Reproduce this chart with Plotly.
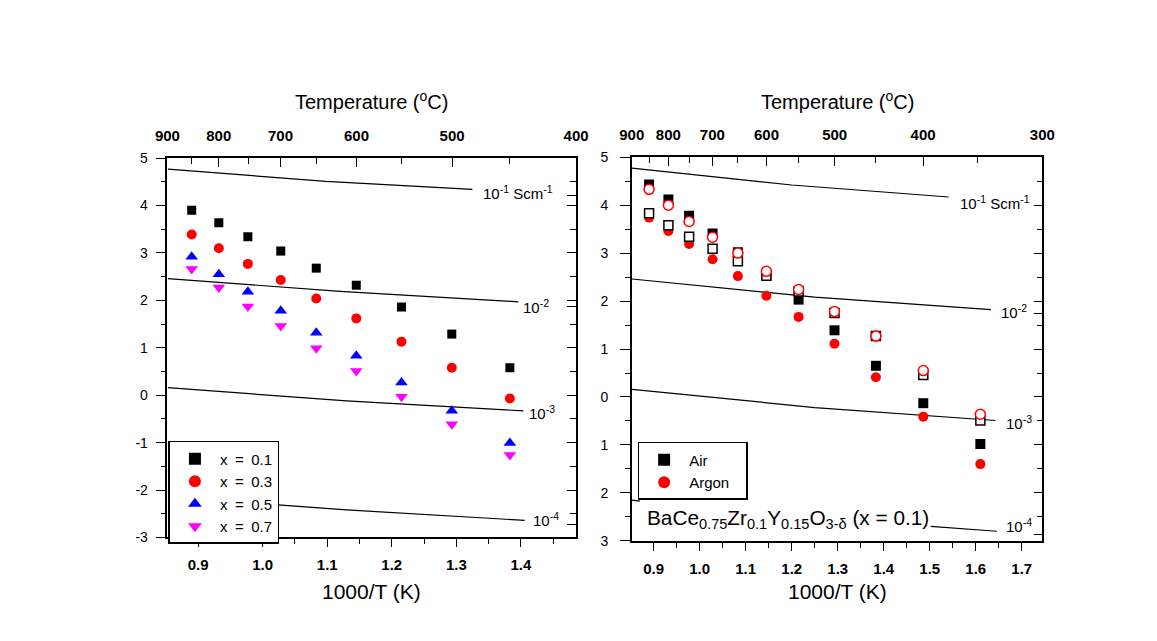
import plotly.graph_objects as go

# ---------------- data ----------------
inv_T_left = [0.890, 0.932, 0.977, 1.028, 1.083, 1.145, 1.215, 1.293, 1.383]
y_x01 = [3.90, 3.64, 3.34, 3.04, 2.68, 2.32, 1.86, 1.29, 0.58]
y_x03 = [3.39, 3.10, 2.77, 2.43, 2.04, 1.62, 1.13, 0.58, -0.07]
y_x05 = [2.92, 2.55, 2.18, 1.78, 1.32, 0.83, 0.27, -0.33, -1.01]
y_x07 = [2.66, 2.27, 1.87, 1.46, 0.99, 0.51, -0.03, -0.61, -1.26]
series_names_left = ["x\u2002=\u20020.1", "x\u2002=\u20020.3", "x\u2002=\u20020.5", "x\u2002=\u20020.7"]

inv_T_right = [0.890, 0.932, 0.977, 1.028, 1.083, 1.145, 1.215, 1.293, 1.383, 1.486, 1.610]
air_filled = [4.43, 4.12, 3.78, 3.41, 3.02, 2.55, 2.03, 1.39, 0.65, -0.13, -0.98]
argon_filled = [3.74, 3.46, 3.19, 2.87, 2.52, 2.11, 1.67, 1.11, 0.41, -0.41, -1.40]
air_open = [3.83, 3.58, 3.34, 3.09, 2.83, 2.53, 2.20, 1.75, 1.27, 0.46, -0.49]
argon_open = [4.33, 4.00, 3.66, 3.33, 3.00, 2.62, 2.24, 1.78, 1.27, 0.55, -0.36]
series_names_right = ["Air", "Argon\u2002\u00a0"]

# iso-conductivity guide lines (None = hidden behind the label)
left_iso_1e1_x = [0.853, 1.098, 1.325]; left_iso_1e1_y = [4.77, 4.51, 4.34]
left_iso_1e2_x = [0.853, 1.120, 1.396]; left_iso_1e2_y = [2.46, 2.19, 1.97]
left_iso_1e3_x = [0.853, 1.130, 1.404]; left_iso_1e3_y = [0.16, -0.12, -0.33]
left_iso_1e4_x = [0.853, 1.130, 1.406]; left_iso_1e4_y = [-2.14, -2.42, -2.64]
right_iso_1e1_x = [0.853, 1.200, 1.541]; right_iso_1e1_y = [4.77, 4.42, 4.17]
right_iso_1e2_x = [0.853, 1.250, 1.633]; right_iso_1e2_y = [2.46, 2.08, 1.82]
right_iso_1e3_x = [0.853, 1.250, 1.643]; right_iso_1e3_y = [0.16, -0.22, -0.49]
right_iso_1e4_x = [0.853, 0.870, None, 1.502, 1.646]
right_iso_1e4_y = [-2.15, -2.17, None, -2.70, -2.80]
iso_labels = ["10<sup>-1</sup> Scm<sup>-1</sup>", "10<sup>-2</sup>", "10<sup>-3</sup>", "10<sup>-4</sup>"]

# ticks
bottom_ticks_left = [0.9, 1.0, 1.1, 1.2, 1.3, 1.4]
bottom_minor_left = [0.95, 1.05, 1.15, 1.25, 1.35, 1.45]
bottom_ticks_right = [0.9, 1.0, 1.1, 1.2, 1.3, 1.4, 1.5, 1.6, 1.7]
bottom_minor_right = [0.95, 1.05, 1.15, 1.25, 1.35, 1.45, 1.55, 1.65]
temp_ticks_left = [900, 800, 700, 600, 500, 400]
temp_minor_left = [850, 750, 650, 550, 450]
temp_ticks_right = [900, 800, 700, 600, 500, 400, 300]
temp_minor_right = [850, 750, 650, 550, 450, 350]
y_ticks = [-3, -2, -1, 0, 1, 2, 3, 4, 5]
y_minor = [-2.5, -1.5, -0.5, 0.5, 1.5, 2.5, 3.5, 4.5]
y_ticktext_left = ["-3", "-2", "-1", "0", "1", "2", "3", "4", "5"]
y_ticktext_right = ["3", "2", "1", "0", "1", "2", "3", "4", "5"]
right_extra_ticks_left = [4.21, 1.88, -2.72]
right_extra_ticks_right = [1.75, -2.86]


def inv(tc):
    return 1000.0 / (tc + 273.15)


FONT = "Arial, Liberation Sans, sans-serif"
W, H = 1157, 641

fig = go.Figure()

# ---- iso lines ----
for xs, ys, ax in [
    (left_iso_1e1_x, left_iso_1e1_y, "l"), (left_iso_1e2_x, left_iso_1e2_y, "l"),
    (left_iso_1e3_x, left_iso_1e3_y, "l"), (left_iso_1e4_x, left_iso_1e4_y, "l"),
    (right_iso_1e1_x, right_iso_1e1_y, "r"), (right_iso_1e2_x, right_iso_1e2_y, "r"),
    (right_iso_1e3_x, right_iso_1e3_y, "r"), (right_iso_1e4_x, right_iso_1e4_y, "r"),
]:
    fig.add_trace(go.Scatter(
        x=xs, y=ys, mode="lines", line=dict(color="black", width=1.2),
        showlegend=False, hoverinfo="skip", connectgaps=False,
        xaxis="x" if ax == "l" else "x3", yaxis="y" if ax == "l" else "y3"))

# ---- left series ----
left_styles = [
    (y_x01, "square", "#000000", 9),
    (y_x03, "circle", "#ff0000", 10),
    (y_x05, "triangle-up", "#0000ff", 11),
    (y_x07, "triangle-down", "#ff00ff", 11),
]
for name, (ys, sym, col, sz) in zip(series_names_left, left_styles):
    fig.add_trace(go.Scatter(
        x=inv_T_left, y=ys, mode="markers", name=name,
        marker=dict(symbol=sym, color=col, size=sz, line=dict(width=0)),
        xaxis="x", yaxis="y", legend="legend"))

# ---- right series ----
fig.add_trace(go.Scatter(
    x=inv_T_right, y=air_filled, mode="markers", name=series_names_right[0],
    marker=dict(symbol="square", color="black", size=10, line=dict(width=0)),
    xaxis="x3", yaxis="y3", legend="legend2"))
fig.add_trace(go.Scatter(
    x=inv_T_right, y=argon_filled, mode="markers", name=series_names_right[1],
    marker=dict(symbol="circle", color="#ff0000", size=10, line=dict(width=0)),
    xaxis="x3", yaxis="y3", legend="legend2"))
fig.add_trace(go.Scatter(
    x=inv_T_right, y=air_open, mode="markers", name="Air (open)", showlegend=False,
    marker=dict(symbol="square", color="white", size=9, line=dict(color="black", width=1.5)),
    xaxis="x3", yaxis="y3"))
fig.add_trace(go.Scatter(
    x=inv_T_right, y=argon_open, mode="markers", name="Argon (open)", showlegend=False,
    marker=dict(symbol="circle", color="white", size=10, line=dict(color="#ff0000", width=1.5)),
    xaxis="x3", yaxis="y3"))

# dummy traces so overlay axes are created
fig.add_trace(go.Scatter(x=[], y=[], xaxis="x2", yaxis="y2", showlegend=False))
fig.add_trace(go.Scatter(x=[], y=[], xaxis="x4", yaxis="y4", showlegend=False))

# ---- axes ----
lx0, lx1 = 158 / W, 576 / W
rx0, rx1 = 633 / W, 1053 / W
ly0, ly1 = 1 - 543 / H, 1 - 154 / H
ry0, ry1 = 1 - 546.5 / H, 1 - 153 / H
xr_left = [inv(900), inv(400)]
xr_right = [inv(900), inv(300)]

common = dict(showgrid=False, zeroline=False, showline=True, linecolor="black",
              linewidth=1.5, tickcolor="black", tickwidth=1.3)
xtickfont = dict(family=FONT, size=15, color="black")
ytickfont = dict(family=FONT, size=14, color="black")


def bottom_axis(dom, anchor, rng, ticks, minor):
    return dict(common, domain=dom, anchor=anchor, range=rng, tickmode="array",
                tickvals=ticks, ticktext=["<b>%.1f</b>" % t for t in ticks],
                ticks="outside", ticklen=8, tickfont=xtickfont, ticklabelstandoff=5,
                minor=dict(tickmode="array", tickvals=minor, ticks="outside",
                           ticklen=5, tickcolor="black", tickwidth=1.3))


def top_axis(over, anchor, rng, temps, minor):
    return dict(common, overlaying=over, side="top", anchor=anchor, range=rng,
                tickmode="array", tickvals=[inv(t) for t in temps],
                ticktext=["<b>%d</b>" % t for t in temps],
                ticks="inside", ticklen=9, tickfont=xtickfont, ticklabelstandoff=9,
                minor=dict(tickmode="array", tickvals=[inv(t) for t in minor],
                           ticks="inside", ticklen=6, tickcolor="black", tickwidth=1.3))


def left_yaxis(dom, anchor, ticktext, standoff):
    return dict(common, domain=dom, anchor=anchor, range=[-3, 5], tickmode="array",
                tickvals=y_ticks, ticktext=ticktext, ticks="outside", ticklen=10,
                tickfont=ytickfont, ticklabelstandoff=standoff,
                minor=dict(tickmode="array", tickvals=y_minor, ticks="outside",
                           ticklen=5, tickcolor="black", tickwidth=1.3))


def right_yaxis(over, anchor, extra):
    return dict(common, overlaying=over, side="right", anchor=anchor, range=[-3, 5],
                tickmode="array", tickvals=y_ticks + extra, showticklabels=False,
                ticks="inside", ticklen=9,
                minor=dict(tickmode="array", tickvals=y_minor, ticks="inside",
                           ticklen=6, tickcolor="black", tickwidth=1.3))


legend_common = dict(xanchor="left", yanchor="top", bgcolor="white", bordercolor="black",
                     borderwidth=1.5, font=dict(family=FONT, size=15, color="black"),
                     itemsizing="constant", itemwidth=40)

fig.update_layout(
    width=W, height=H,
    margin=dict(l=0, r=0, t=0, b=0),
    paper_bgcolor="white", plot_bgcolor="white",
    font=dict(family=FONT, color="black"),
    xaxis=bottom_axis([lx0, lx1], "y", xr_left, bottom_ticks_left, bottom_minor_left),
    xaxis2=top_axis("x", "y", xr_left, temp_ticks_left, temp_minor_left),
    yaxis=left_yaxis([ly0, ly1], "x", y_ticktext_left, 5),
    yaxis2=right_yaxis("y", "x", right_extra_ticks_left),
    xaxis3=bottom_axis([rx0, rx1], "y3", xr_right, bottom_ticks_right, bottom_minor_right),
    xaxis4=top_axis("x3", "y3", xr_right, temp_ticks_right, temp_minor_right),
    yaxis3=left_yaxis([ry0, ry1], "x3", y_ticktext_right, 9),
    yaxis4=right_yaxis("y3", "x3", right_extra_ticks_right),
    legend=dict(legend_common, x=159 / W, y=1 - 444 / H),
    legend2=dict(legend_common, x=639 / W, y=1 - 445 / H),
    showlegend=True,
)

ann = []
for cx in [367 / W, 843 / W]:
    ann.append(dict(xref="paper", yref="paper", x=cx, y=1 - 95 / H, text="Temperature (<sup>o</sup>C)",
                    showarrow=False, font=dict(family=FONT, size=20, color="black"),
                    xanchor="center", yanchor="middle"))
    ann.append(dict(xref="paper", yref="paper", x=cx, y=1 - 598 / H, text="1000/T (K)",
                    showarrow=False, font=dict(family=FONT, size=21, color="black"),
                    xanchor="center", yanchor="middle"))

left_label_pos = [(1.338, 4.28), (1.401, 1.88), (1.410, -0.37), (1.415, -2.63)]
right_label_pos = [(1.562, 4.06), (1.650, 1.78), (1.661, -0.53), (1.661, -2.68)]
for (x, y), t in zip(left_label_pos, iso_labels):
    ann.append(dict(xref="x", yref="y", x=x, y=y, text=t, showarrow=False,
                    font=dict(family=FONT, size=15, color="black"),
                    xanchor="left", yanchor="middle"))
for (x, y), t in zip(right_label_pos, iso_labels):
    ann.append(dict(xref="x3", yref="y3", x=x, y=y, text=t, showarrow=False,
                    font=dict(family=FONT, size=15, color="black"),
                    xanchor="left", yanchor="middle"))

ann.append(dict(xref="x3", yref="y3", x=0.882, y=-2.55,
                text="BaCe<sub>0.75</sub>Zr<sub>0.1</sub>Y<sub>0.15</sub>O<sub>3-δ</sub> (x = 0.1)",
                showarrow=False, font=dict(family=FONT, size=20.8, color="black"),
                xanchor="left", yanchor="middle"))

fig.update_layout(annotations=ann)

fig.write_html("out.html")
